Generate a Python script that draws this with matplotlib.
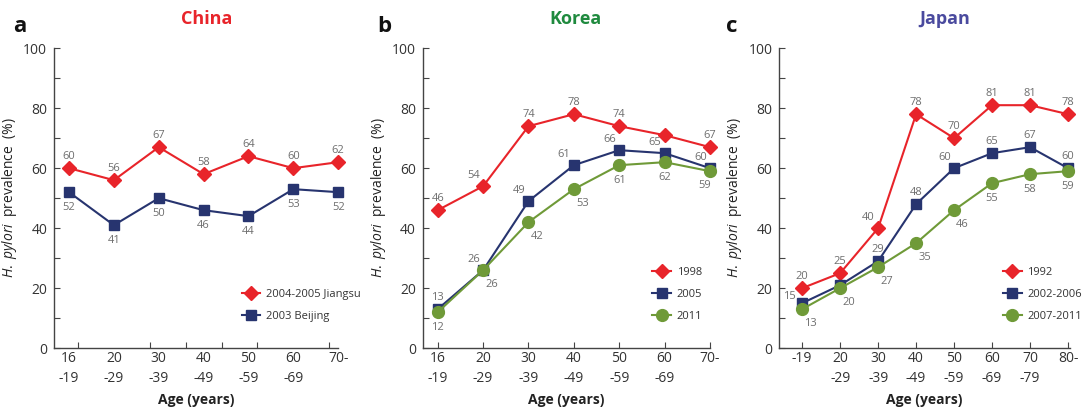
import matplotlib

matplotlib.use("Agg")
import matplotlib.pyplot as plt
from matplotlib.ticker import FixedLocator, MultipleLocator

plt.rcParams["font.family"] = ["Open Sans", "DejaVu Sans"]
plt.rcParams["mathtext.fontset"] = "custom"
plt.rcParams["mathtext.it"] = "Open Sans:italic"
plt.rcParams["mathtext.rm"] = "Open Sans"

# age groups
china_ages = ["16\n-19", "20\n-29", "30\n-39", "40\n-49", "50\n-59", "60\n-69", "70-"]
korea_ages = ["16\n-19", "20\n-29", "30\n-39", "40\n-49", "50\n-59", "60\n-69", "70-"]
japan_ages = ["-19", "20\n-29", "30\n-39", "40\n-49", "50\n-59", "60\n-69", "70\n-79", "80-"]

# prevalence (%)
china_jiangsu = [60, 56, 67, 58, 64, 60, 62]
china_beijing = [52, 41, 50, 46, 44, 53, 52]

korea_1998 = [46, 54, 74, 78, 74, 71, 67]
korea_2005 = [13, 26, 49, 61, 66, 65, 60]
korea_2011 = [12, 26, 42, 53, 61, 62, 59]

japan_1992 = [20, 25, 40, 78, 70, 81, 81, 78]
japan_2002 = [15, 21, 29, 48, 60, 65, 67, 60]
japan_2007 = [13, 20, 27, 35, 46, 55, 58, 59]

# which points carry a value label
korea_1998_shown = [True, True, True, True, True, False, True]
japan_2002_shown = [True, False, True, True, True, True, True, True]

RED = "#e8242a"
NAVY = "#27346f"
GREEN = "#6f9a38"
LABEL_GREY = "#6e6e6e"

# label placement, offset in points from the marker
OFFSETS = {
    "up": (0, 8.5),
    "down": (0, -11),
    "upleft": (-7, 7.5),
    "left": (-9, 5),
    "downright": (6, -10),
    "downleft": (-4, -10),
}

STYLES = {
    "diamond": dict(marker="D", ms=7.5, color=RED),
    "square": dict(marker="s", ms=7.5, color=NAVY),
    "circle": dict(marker="o", ms=8.5, color=GREEN),
}


def draw_series(ax, values, style, label, places, shown=None):
    xs = list(range(len(values)))
    ax.plot(xs, values, lw=1.5, label=label, clip_on=False, zorder=3,
            **STYLES[style])
    for i, v in enumerate(values):
        if shown is not None and not shown[i]:
            continue
        dx, dy = OFFSETS[places[i]]
        ax.annotate(str(v), (i, v), xytext=(dx, dy), textcoords="offset points",
                    ha="center", va="center", fontsize=8, color=LABEL_GREY)


def style_axes(ax, ages, xlim, tick_pos=None):
    ax.set_ylim(0, 100)
    ax.set_xlim(*xlim)
    for side in ("top", "right"):
        ax.spines[side].set_visible(False)
    for side in ("left", "bottom"):
        ax.spines[side].set_color("#444444")
        ax.spines[side].set_linewidth(1.0)
    ax.yaxis.set_major_locator(MultipleLocator(20))
    ax.yaxis.set_minor_locator(MultipleLocator(10))
    ax.tick_params(axis="y", which="both", direction="in", length=4,
                   width=0.8, color="#444444", labelsize=10,
                   labelcolor="#333333", pad=5)
    ax.set_xticks(range(len(ages)))
    ax.set_xticklabels(ages, fontsize=10, color="#333333", linespacing=1.45,
                       va="top")
    if tick_pos is None:
        ax.tick_params(axis="x", which="major", direction="in", length=4,
                       width=0.8, color="#444444", pad=2)
    else:
        # tick marks here sit on their own spacing, labels follow the points
        ax.tick_params(axis="x", which="major", direction="in", length=0,
                       pad=2)
        ax.xaxis.set_minor_locator(FixedLocator(tick_pos))
        ax.tick_params(axis="x", which="minor", direction="in", length=4,
                       width=0.8, color="#444444")
    ax.set_xlabel("Age (years)", fontsize=10, fontweight="bold",
                  color="#222222", labelpad=5)
    ax.set_ylabel(r"$\mathit{H.\ pylori}$  prevalence  (%)", fontsize=10,
                  color="#222222", labelpad=3)


def add_legend(ax, x, y):
    leg = ax.legend(loc="upper left", bbox_to_anchor=(x, y), frameon=False,
                    fontsize=8, handlelength=1.7, handletextpad=0.5,
                    labelspacing=1.0, borderpad=0)
    for t in leg.get_texts():
        t.set_color("#333333")


fig = plt.figure(figsize=(10.84, 4.12), dpi=100)

# a: China
ax_a = fig.add_axes([0.050, 0.155, 0.262, 0.728])
draw_series(ax_a, china_jiangsu, "diamond", "2004-2005 Jiangsu", ["up"] * 7)
draw_series(ax_a, china_beijing, "square", "2003 Beijing", ["down"] * 7)
style_axes(ax_a, china_ages, (-0.33, 6.0),
           tick_pos=[0.2 + 0.8 * j for j in range(8)])
add_legend(ax_a, 0.64, 0.215)

# b: Korea
ax_b = fig.add_axes([0.390, 0.155, 0.265, 0.728])
draw_series(ax_b, korea_1998, "diamond", "1998",
            ["up", "upleft", "up", "up", "up", "up", "up"], korea_1998_shown)
draw_series(ax_b, korea_2005, "square", "2005",
            ["up"] + ["upleft"] * 6)
draw_series(ax_b, korea_2011, "circle", "2011",
            ["down", "downright", "downright", "downright", "down", "down",
             "downleft"])
style_axes(ax_b, korea_ages, (-0.33, 6.0))
add_legend(ax_b, 0.78, 0.29)

# c: Japan
ax_c = fig.add_axes([0.719, 0.155, 0.268, 0.728])
draw_series(ax_c, japan_1992, "diamond", "1992",
            ["up", "up", "upleft", "up", "up", "up", "up", "up"])
draw_series(ax_c, japan_2002, "square", "2002-2006",
            ["left", "up", "up", "up", "upleft", "up", "up", "up"],
            japan_2002_shown)
draw_series(ax_c, japan_2007, "circle", "2007-2011",
            ["downright"] * 5 + ["down"] * 3)
style_axes(ax_c, japan_ages, (-0.6, 7.05))
add_legend(ax_c, 0.75, 0.29)

# panel letters and country titles
for x, letter in [(0.012, "a"), (0.348, "b"), (0.67, "c")]:
    fig.text(x, 0.935, letter, fontsize=16, fontweight="bold", color="#111111",
             va="center")
for x, name, color in [(0.191, "China", RED), (0.531, "Korea", "#1f8a3e"),
                       (0.872, "Japan", "#4a4a9e")]:
    fig.text(x, 0.955, name, fontsize=13, fontweight="bold", color=color,
             ha="center", va="center")

fig.savefig("out.png", dpi=100)
